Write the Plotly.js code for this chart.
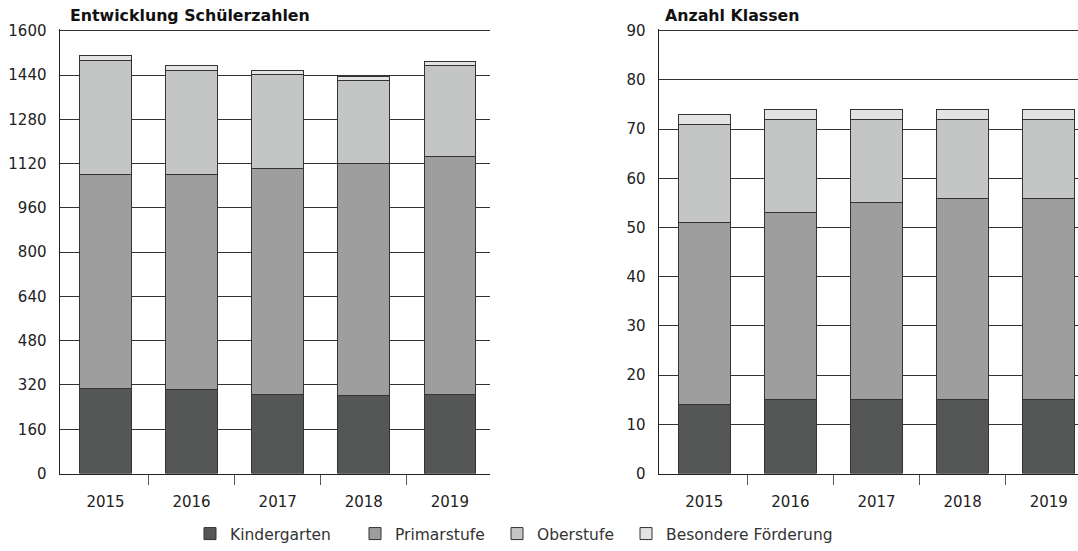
<!DOCTYPE html>
<html>
<head>
<meta charset="utf-8">
<script src="https://cdn.plot.ly/plotly-3.0.1.min.js"></script>
<style>html,body{margin:0;padding:0;background:#fff;}#chart{width:1078px;height:551px;}</style>
</head>
<body>
<div id="chart"></div>
<script>
const years = ['2015', '2016', '2017', '2018', '2019'];
const seriesNames = ['Kindergarten', 'Primarstufe', 'Oberstufe', 'Besondere Förderung'];
const colors = ['#555756', '#9d9e9d', '#c4c6c5', '#e2e3e2'];

// Entwicklung Schülerzahlen
const schuelerKindergarten = [307, 305, 286, 282, 286];
const schuelerPrimarstufe = [772, 777, 818, 838, 858];
const schuelerOberstufe = [412, 376, 337, 301, 332];
const schuelerBesondere = [18, 15, 15, 13, 14];

// Anzahl Klassen
const klassenKindergarten = [14, 15, 15, 15, 15];
const klassenPrimarstufe = [37, 38, 40, 41, 41];
const klassenOberstufe = [20, 19, 17, 16, 16];
const klassenBesondere = [2, 2, 2, 2, 2];

const leftTicks = [0, 160, 320, 480, 640, 800, 960, 1120, 1280, 1440, 1600];
const rightTicks = [0, 10, 20, 30, 40, 50, 60, 70, 80, 90];

const schueler = [schuelerKindergarten, schuelerPrimarstufe, schuelerOberstufe, schuelerBesondere];
const klassen = [klassenKindergarten, klassenPrimarstufe, klassenOberstufe, klassenBesondere];

// category positions on a linear axis (so category boundaries can carry ticks)
const pos = years.map((_, i) => i);
const boundaries = pos.slice(1).map(p => p - 0.5);

const legendIds = ['legend', 'legend2', 'legend3', 'legend4'];

const traces = [];
schueler.forEach((vals, i) => {
  traces.push({
    type: 'bar', x: pos, y: vals, name: seriesNames[i], legendgroup: seriesNames[i],
    legend: legendIds[i],
    xaxis: 'x', yaxis: 'y', width: 0.6,
    marker: {color: colors[i], line: {color: '#333333', width: 1}},
    hoverinfo: 'skip'
  });
});
klassen.forEach((vals, i) => {
  traces.push({
    type: 'bar', x: pos, y: vals, name: seriesNames[i], legendgroup: seriesNames[i],
    showlegend: false, xaxis: 'x2', yaxis: 'y2', width: 0.6,
    marker: {color: colors[i], line: {color: '#333333', width: 1}},
    hoverinfo: 'skip'
  });
});

const W = 1078, H = 551;
const FAM = 'DejaVu Sans, Verdana, sans-serif';
const tickFont = {family: FAM, size: 15, color: '#222'};
// plot top extended 2px above the top gridline so that gridline is drawn
const yDom = [(H - 477) / H, (H - 29) / H];
const yStretch = 448 / 446;
const lDom = [59.5 / W, 490 / W];
const rDom = [658.5 / W, 1];
const lRange = [-0.534, 4.466];
const rRange = [-0.532, 4.34];

function catAxis(dom, range, anchor) {
  return {
    type: 'linear', domain: dom, range: range, anchor: anchor,
    tickmode: 'array', tickvals: pos, ticktext: years,
    showgrid: false, showline: true, linecolor: '#222', linewidth: 1,
    ticks: 'outside', ticklen: 14, tickcolor: 'rgba(0,0,0,0)',
    minor: {tickmode: 'array', tickvals: boundaries, ticks: 'outside', ticklen: 10,
            tickcolor: '#555', tickwidth: 1, showgrid: false},
    tickfont: tickFont, zeroline: false, fixedrange: true
  };
}
function valAxis(ticks, anchor) {
  return {
    domain: yDom, anchor: anchor, range: [0, ticks[ticks.length - 1] * yStretch],
    tickmode: 'array', tickvals: ticks,
    showgrid: true, gridcolor: '#333', gridwidth: 1,
    showline: true, linecolor: '#222', linewidth: 1,
    ticks: '', ticklabelstandoff: 9, tickfont: tickFont,
    zeroline: false, fixedrange: true
  };
}

const legendX = [190, 355, 497, 626];
function legendAt(px) {
  return {
    orientation: 'h', x: px / W, xanchor: 'left', y: (H - 538) / H, yanchor: 'middle',
    traceorder: 'normal', font: {family: FAM, size: 15.5, color: '#333'},
    bgcolor: 'rgba(0,0,0,0)'
  };
}

const layout = {
  width: W, height: H,
  margin: {l: 0, r: 0, t: 0, b: 0},
  paper_bgcolor: '#fff', plot_bgcolor: '#fff',
  barmode: 'stack',
  font: {family: FAM, color: '#222'},
  xaxis: catAxis(lDom, lRange, 'y'),
  yaxis: valAxis(leftTicks, 'x'),
  xaxis2: catAxis(rDom, rRange, 'y2'),
  yaxis2: valAxis(rightTicks, 'x2'),
  showlegend: true,
  legend: legendAt(legendX[0]),
  legend2: legendAt(legendX[1]),
  legend3: legendAt(legendX[2]),
  legend4: legendAt(legendX[3]),
  annotations: [
    {text: '<b>Entwicklung Schülerzahlen</b>', xref: 'paper', yref: 'paper', x: 68 / W, y: (H - 16) / H,
     xanchor: 'left', yanchor: 'middle', showarrow: false,
     font: {family: FAM, size: 15.8, color: '#111'}},
    {text: '<b>Anzahl Klassen</b>', xref: 'paper', yref: 'paper', x: 663 / W, y: (H - 16) / H,
     xanchor: 'left', yanchor: 'middle', showarrow: false,
     font: {family: FAM, size: 15.8, color: '#111'}}
  ]
};

Plotly.newPlot('chart', traces, layout, {displayModeBar: false, staticPlot: true});
</script>
</body>
</html>
